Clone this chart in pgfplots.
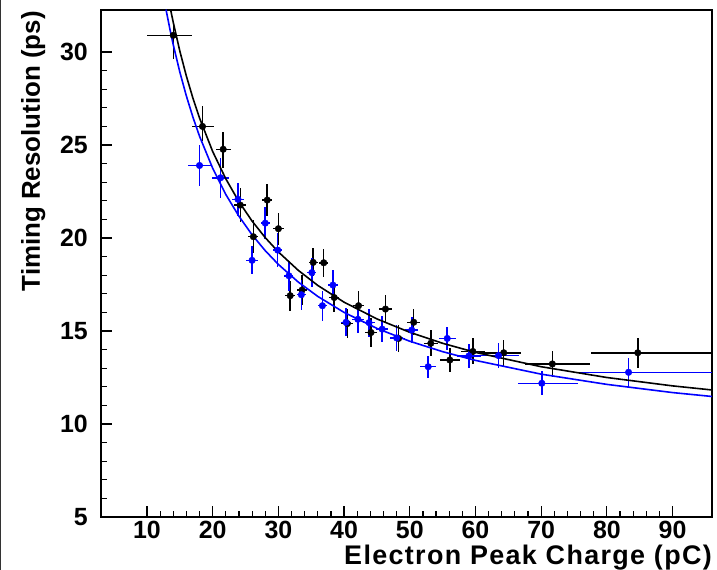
\documentclass[border=0pt]{standalone}
\usepackage{pgfplots}
\usepackage{pgfplotstable}
\pgfplotsset{compat=1.18}
\usepackage{fontspec}
\setmainfont{Liberation Sans}

% Measured timing resolution vs. electron peak charge
% columns: x, y, x error minus/plus, y error minus/plus
\pgfplotstableread{
x     y      xm    xp    ym    yp
14.0  30.9   3.95  2.8   1.3   0.5
18.45 26.0   1.6   1.7   0.8   1.1
21.6  24.77  1.1   1.2   1.0   0.95
24.2  21.77  0.9   0.9   0.9   0.9
26.2  20.07  0.75  0.75  0.9   0.9
28.3  22.04  0.75  0.75  0.87  0.87
30.0  20.5   0.8   0.8   0.85  0.85
31.8  16.9   0.75  0.75  0.8   0.8
33.6  17.2   0.75  0.75  0.8   0.8
35.3  18.69  0.7   0.7   0.75  0.75
36.9  18.67  0.7   0.7   0.75  0.75
38.5  16.8   0.8   0.8   0.8   0.8
40.5  15.4   0.9   0.9   0.8   0.8
42.2  16.36  0.9   0.9   0.8   0.8
44.1  14.92  0.9   0.9   0.8   0.8
46.3  16.18  1.0   1.0   0.75  0.75
48.3  14.6   1.0   1.0   0.75  0.75
50.6  15.47  1.0   1.0   0.7   0.7
53.2  14.34  1.1   1.1   0.7   0.7
56.1  13.44  1.5   1.5   0.65  0.65
59.6  13.9   1.8   1.8   0.7   0.7
64.3  13.83  3.8   2.7   0.7   0.7
71.7  13.23  4.1   5.8   0.7   0.7
84.7  13.83  7.1   12    0.8   0.8
}\tblk

\pgfplotstableread{
x     y      xm    xp    ym    yp
18.0  23.9   1.8   1.8   1.1   1.1
21.2  23.24  1.25  1.25  1.07  1.07
23.85 22.08  0.9   0.9   0.9   0.9
26.0  18.8   0.95  0.95  0.76  0.76
28.0  20.8   0.7   0.7   0.85  0.85
29.9  19.35  0.7   0.7   0.9   0.9
31.6  17.97  0.7   0.7   0.8   0.8
33.5  16.95  0.7   0.7   0.8   0.8
35.1  18.14  0.7   0.7   0.8   0.8
36.7  16.36  0.7   0.7   0.8   0.8
38.3  17.47  0.8   0.8   0.8   0.8
40.3  15.47  0.8   0.8   0.75  0.75
42.1  15.63  0.9   0.9   0.75  0.75
43.8  15.45  0.9   0.9   0.75  0.75
45.8  15.1   0.9   0.9   0.7   0.7
48.0  14.63  1.0   1.0   0.7   0.7
50.3  15.05  1.0   1.0   0.7   0.7
52.8  13.08  1.2   1.2   0.6   0.6
55.7  14.6   1.26  1.26  0.6   0.6
59.0  13.66  1.8   1.8   0.65  0.65
63.5  13.68  3.0   3.1   0.65  0.65
70.1  12.19  3.6   5.5   0.65  0.65
83.3  12.78  7.6   13    0.78  0.78
}\tblu

% fitted curves, tabulated
\pgfplotstableread{
x    y
13.6 32.27
14   31.59
15   30.05
16   28.70
17   27.51
18   26.45
20   24.65
22   23.18
24   21.95
26   20.91
28   20.02
30   19.25
33   18.27
36   17.45
40   16.55
45   15.65
50   14.93
55   14.34
60   13.85
70   13.08
80   12.50
90   12.05
96   11.83
}\fitk

\pgfplotstableread{
x    y
12.9 32.28
13.5 31.21
14   30.39
15   28.92
16   27.63
17   26.49
18   25.47
20   23.75
22   22.34
24   21.17
26   20.17
28   19.32
30   18.58
33   17.64
36   16.86
40   16.00
45   15.14
50   14.45
55   13.89
60   13.42
70   12.68
80   12.13
90   11.69
96   11.48
}\fitb

\begin{document}
\begin{tikzpicture}
\useasboundingbox (-101bp,-53bp) rectangle (616bp,517bp);
\begin{axis}[
  at={(0,0)}, anchor=south west,
  scale only axis,
  width=611bp, height=507bp,
  xmin=3, xmax=96, ymin=5, ymax=32.26,
  xtick={10,20,...,90}, ytick={5,10,...,30},
  minor x tick num=4, minor y tick num=4,
  tick pos=left, tick align=inside,
  major tick length=11bp, minor tick length=6bp,
  axis line style={line width=1.4bp},
  every tick/.style={line width=1.2bp, black},
  /pgf/number format/assume math mode=true,
  ticklabel style={font=\fontsize{25}{25}\selectfont\bfseries, inner sep=0pt},
  xticklabel style={anchor=north, yshift=-4bp},
  yticklabel style={anchor=east, xshift=-13bp},
  error bars/error bar style={line width=1.5bp},
  clip=true,
]
\addplot[black, only marks, mark=*, mark size=3.3bp,
  error bars/.cd, x dir=both, x explicit, y dir=both, y explicit, error mark=none]
  table[x=x, y=y, x error plus=xp, x error minus=xm, y error plus=yp, y error minus=ym] {\tblk};
\addplot[blue, only marks, mark=*, mark size=3.3bp,
  error bars/.cd, x dir=both, x explicit, y dir=both, y explicit, error mark=none]
  table[x=x, y=y, x error plus=xp, x error minus=xm, y error plus=yp, y error minus=ym] {\tblu};
\addplot[black, line width=1.6bp, no marks] table {\fitk};
\addplot[blue, line width=1.6bp, no marks] table {\fitb};
\end{axis}
% axis titles
\node[anchor=base east, inner sep=0pt,
  font=\fontsize{27}{27}\selectfont\bfseries\addfontfeatures{LetterSpace=5}]
  at (611bp,-47bp) {Electron Peak Charge (pC)};
\node[rotate=90, anchor=base east, inner sep=0pt,
  font=\fontsize{26}{26}\selectfont\bfseries]
  at (-61bp,506bp) {Timing Resolution (ps)};
\draw[line width=1.2bp, black!80] (-100.4bp,-53bp) -- (-100.4bp,517bp);
\end{tikzpicture}
\end{document}
